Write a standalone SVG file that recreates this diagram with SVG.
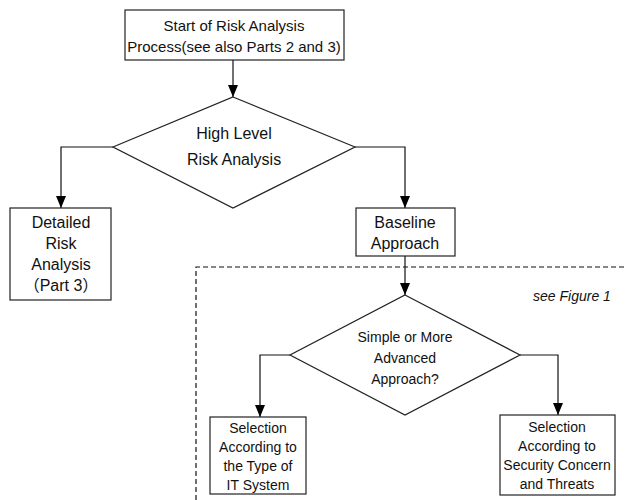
<svg xmlns="http://www.w3.org/2000/svg" width="626" height="500" viewBox="0 0 626 500">
<style>
.box{fill:#fff;stroke:#222;stroke-width:1.2}
.t{font-family:"Liberation Sans",Arial,"Noto Sans CJK JP",sans-serif;font-size:16px;fill:#111;text-anchor:middle}
.m{font-size:15px}
.s{font-size:14px}
.c{fill:none;stroke:#111;stroke-width:1.2}
.d{fill:none;stroke:#111;stroke-width:1.2;stroke-dasharray:5 3}
</style>
<defs>
<marker id="ah" viewBox="0 0 12 10" refX="12" refY="5" markerWidth="12" markerHeight="10" markerUnits="userSpaceOnUse" orient="auto">
<path d="M0,0 L12,5 L0,10 Z" fill="#000"/>
</marker>
</defs>
<rect width="626" height="500" fill="#fff"/>
<g id="region">
<path class="d" d="M196,500 V267 H626"/>
<text class="t" x="572" y="301" style="font-style:italic;font-size:14px">see Figure 1</text>
</g>
<g id="connectors">
<path class="c" d="M233,60 V97" marker-end="url(#ah)"/>
<path class="c" d="M113,147 H61 V208" marker-end="url(#ah)"/>
<path class="c" d="M355,147 H405 V208" marker-end="url(#ah)"/>
<path class="c" d="M405,256 V295" marker-end="url(#ah)"/>
<path class="c" d="M290,355 H260 V417" marker-end="url(#ah)"/>
<path class="c" d="M520,355 H558 V415" marker-end="url(#ah)"/>
</g>
<g id="start">
<rect class="box" x="125" y="10" width="219" height="50"/>
<text class="t m" x="234" y="31">Start of Risk Analysis</text>
<text class="t m" x="234" y="52">Process(see also Parts 2 and 3)</text>
</g>
<g id="highlevel">
<path class="box" d="M233,97 L355,147 L233,208 L113,147 Z"/>
<text class="t" x="234" y="139">High Level</text>
<text class="t" x="234" y="165">Risk Analysis</text>
</g>
<g id="detailed">
<rect class="box" x="10" y="208" width="101" height="92"/>
<text class="t" x="61" y="228">Detailed</text>
<text class="t" x="61" y="249">Risk</text>
<text class="t" x="61" y="270">Analysis</text>
<text class="t" x="61" y="291">（Part 3）</text>
</g>
<g id="baseline">
<rect class="box" x="356" y="208" width="99" height="48"/>
<text class="t" x="405" y="228">Baseline</text>
<text class="t" x="405" y="249">Approach</text>
</g>
<g id="simple">
<path class="box" d="M405,295 L520,355 L405,415 L290,355 Z"/>
<text class="t s" x="405" y="342">Simple or More</text>
<text class="t s" x="405" y="363">Advanced</text>
<text class="t s" x="405" y="384">Approach?</text>
</g>
<g id="seltype">
<rect class="box" x="210" y="417" width="96" height="77"/>
<text class="t s" x="258" y="433">Selection</text>
<text class="t s" x="258" y="452">According to</text>
<text class="t s" x="258" y="471">the Type of</text>
<text class="t s" x="258" y="490">IT System</text>
</g>
<g id="selthreat">
<rect class="box" x="500" y="415" width="115" height="80"/>
<text class="t s" x="557" y="432">Selection</text>
<text class="t s" x="557" y="451">According to</text>
<text class="t s" x="557" y="470">Security Concern</text>
<text class="t s" x="557" y="489">and Threats</text>
</g>
</svg>
